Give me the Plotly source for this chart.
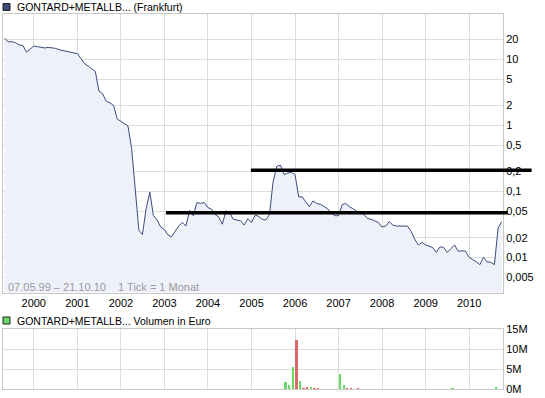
import math
import pandas as pd
import plotly.graph_objects as go

# ---------------- data ----------------
start_month = "1999-05-01"
price_1999 = [20.7, 18.4, 18.4, 17.8, 16.4, 16.2, 12.8, 14.2]
price_2000 = [15.8, 15.5, 15.0, 14.8, 15.1, 14.8, 14.6, 13.9, 13.4, 13.1, 12.8, 12.5]
price_2001 = [12.1, 10.2, 8.6, 7.9, 7.1, 6.5, 3.3, 3.0, 2.3, 2.2, 2.0, 1.25]
price_2002 = [1.15, 1.05, 0.98, 0.45, 0.1, 0.026, 0.0224, 0.055, 0.098, 0.043, 0.037, 0.029]
price_2003 = [0.0265, 0.022, 0.0206, 0.025, 0.030, 0.034, 0.030, 0.052, 0.043, 0.068, 0.066, 0.068]
price_2004 = [0.057, 0.054, 0.045, 0.041, 0.032, 0.051, 0.048, 0.038, 0.037, 0.036, 0.031, 0.039]
price_2005 = [0.034, 0.044, 0.042, 0.038, 0.037, 0.045, 0.14, 0.24, 0.25, 0.18, 0.19, 0.195]
price_2006 = [0.18, 0.083, 0.083, 0.07, 0.059, 0.072, 0.066, 0.064, 0.06, 0.055, 0.047, 0.043]
price_2007 = [0.043, 0.063, 0.066, 0.059, 0.055, 0.051, 0.047, 0.045, 0.039, 0.038, 0.036, 0.034]
price_2008 = [0.029, 0.030, 0.035, 0.031, 0.030, 0.030, 0.030, 0.030, 0.025, 0.019, 0.0155, 0.017]
price_2009 = [0.0155, 0.0147, 0.0142, 0.012, 0.0145, 0.0143, 0.012, 0.0137, 0.0155, 0.0125, 0.0127, 0.0125]
price_2010 = [0.0101, 0.0093, 0.0087, 0.0078, 0.0101, 0.0086, 0.0085, 0.0078, 0.028, 0.035]

vol_months = ["2005-10", "2005-11", "2005-12", "2006-01", "2006-02", "2006-03", "2006-04",
              "2006-05", "2006-06", "2006-07", "2007-01", "2007-02", "2007-03", "2007-04",
              "2007-06", "2009-08", "2010-08"]
vol_values = [1.75e6, 1.0e6, 5.5e6, 12.25e6, 2.0e6, 0.25e6, 0.3e6, 0.5e6, 0.25e6, 0.25e6,
              3.75e6, 1.0e6, 0.25e6, 0.25e6, 0.25e6, 0.2e6, 0.4e6]
vol_direction = ["up", "up", "up", "down", "up", "down", "down", "up", "down", "down",
                 "up", "up", "down", "down", "down", "up", "up"]

price_tick_vals = [0.005, 0.01, 0.02, 0.05, 0.1, 0.2, 0.5, 1, 2, 5, 10, 20]
price_tick_text = ["0,005", "0,01", "0,02", "0,05", "0,1", "0,2", "0,5", "1", "2", "5", "10", "20"]
vol_tick_vals = [0, 5e6, 10e6, 15e6]
vol_tick_text = ["0M", "5M", "10M", "15M"]

trend_levels = [0.209, 0.0478]
trend_starts = ["2004-12-27", "2003-01-14"]
trend_ends = ["2011-06-09", "2010-11-20"]

title_main = "GONTARD+METALLB... (Frankfurt)"
title_vol = "GONTARD+METALLB... Volumen in Euro"
range_text = "07.05.99 \u2013 21.10.10\u00a0\u00a0\u00a0 1 Tick = 1 Monat"

# ---------------- build ----------------
prices = (price_1999 + price_2000 + price_2001 + price_2002 + price_2003 + price_2004 +
          price_2005 + price_2006 + price_2007 + price_2008 + price_2009 + price_2010)
dates = pd.date_range(start_month, periods=len(prices), freq="MS")

W, H = 545, 398
L, R, T, B = 3, 42, 14, 9
PW, PH = W - L - R, H - T - B

def py(p):  # pixel-from-top -> paper y
    return (H - B - p) / PH

def px(p):
    return (p - L) / PW

x_range = ["1999-04-18", "2010-10-12"]
x0 = pd.Timestamp(x_range[0]).value
x1 = pd.Timestamp(x_range[1]).value

def date_paper(d):
    return (pd.Timestamp(d).value - x0) / (x1 - x0)

y_lo, y_hi = -2.5278, 1.6836
price_dom = [py(292.5), 1.0]
vol_dom = [0.0, py(329)]

def val_paper(v):
    f = (math.log10(v) - y_lo) / (y_hi - y_lo)
    return price_dom[0] + f * (price_dom[1] - price_dom[0])

FONT = "Liberation Sans, Arial, sans-serif"
GRID = "#dcdcdc"
BORDER = "#c8c8c8"

fig = go.Figure()
fig.add_trace(go.Scatter(
    x=dates, y=prices, mode="lines",
    line=dict(color="#3b4b7b", width=1),
    fill="tozeroy", fillcolor="#eef1fa",
    xaxis="x", yaxis="y", hoverinfo="skip", showlegend=False))

vol_x = [pd.Timestamp(m + "-01") + pd.Timedelta(days=15) for m in vol_months]
color_map = {"up": "#66d966", "down": "#df6767"}
fig.add_trace(go.Bar(
    x=vol_x, y=vol_values,
    marker=dict(color=[color_map[d] for d in vol_direction], line=dict(width=0)),
    width=[16 * 86400000] * len(vol_x),
    xaxis="x2", yaxis="y2", hoverinfo="skip", showlegend=False))

axis_common = dict(showgrid=True, gridcolor=GRID, gridwidth=1, zeroline=False,
                   showline=True, linecolor=BORDER, linewidth=1, mirror=True,
                   automargin=False,
                   tickfont=dict(family=FONT, size=11, color="#000"))

fig.update_layout(
    width=W, height=H,
    margin=dict(l=L, r=R, t=T, b=B, autoexpand=False),
    paper_bgcolor="white", plot_bgcolor="white",
    font=dict(family=FONT, size=11, color="#000"),
    xaxis=dict(domain=[0, 1], anchor="y", type="date", range=x_range,
               tick0="2000-01-01", dtick="M12", tickformat="%Y", ticks="",
               **axis_common),
    yaxis=dict(domain=price_dom, anchor="x", type="log", range=[y_lo, y_hi],
               side="right", tickvals=price_tick_vals, ticktext=price_tick_text,
               ticks="", **axis_common),
    xaxis2=dict(domain=[0, 1], anchor="y2", type="date", range=x_range, matches="x",
                tick0="2000-01-01", dtick="M12", showticklabels=False, ticks="",
                **axis_common),
    yaxis2=dict(domain=vol_dom, anchor="x2", range=[0, 15e6], side="right",
                tickvals=vol_tick_vals, ticktext=vol_tick_text, ticks="",
                **axis_common),
    bargap=0,
)

shapes = []
for lvl, s, e in zip(trend_levels, trend_starts, trend_ends):
    yp = val_paper(lvl)
    shapes.append(dict(type="line", xref="paper", yref="paper",
                       x0=date_paper(s), x1=date_paper(e), y0=yp, y1=yp,
                       line=dict(color="black", width=3.5), layer="above"))
# legend-like squares
shapes.append(dict(type="rect", xref="paper", yref="paper",
                   x0=px(3), x1=px(10), y0=py(10.5), y1=py(3.5),
                   fillcolor="#3b4b7b", line=dict(color="#222", width=1)))
shapes.append(dict(type="rect", xref="paper", yref="paper",
                   x0=px(3), x1=px(10), y0=py(324), y1=py(317),
                   fillcolor="#66d966", line=dict(color="#222", width=1)))
fig.update_layout(shapes=shapes)

fig.add_annotation(x=px(15), y=py(7), xref="paper", yref="paper", text=title_main,
                   showarrow=False, xanchor="left", yanchor="middle",
                   font=dict(family=FONT, size=10.5, color="#000"))
fig.add_annotation(x=px(15), y=py(320.5), xref="paper", yref="paper", text=title_vol,
                   showarrow=False, xanchor="left", yanchor="middle",
                   font=dict(family=FONT, size=10.5, color="#000"))
fig.add_annotation(x=px(6), y=py(286.5), xref="paper", yref="paper", text=range_text,
                   showarrow=False, xanchor="left", yanchor="middle",
                   font=dict(family=FONT, size=11, color="#9a9a9a"))

fig.write_html("out.html", config={"displayModeBar": False},
               post_script="document.body.style.margin='0';document.body.style.padding='0';"
                           "document.documentElement.style.overflow='hidden';")
